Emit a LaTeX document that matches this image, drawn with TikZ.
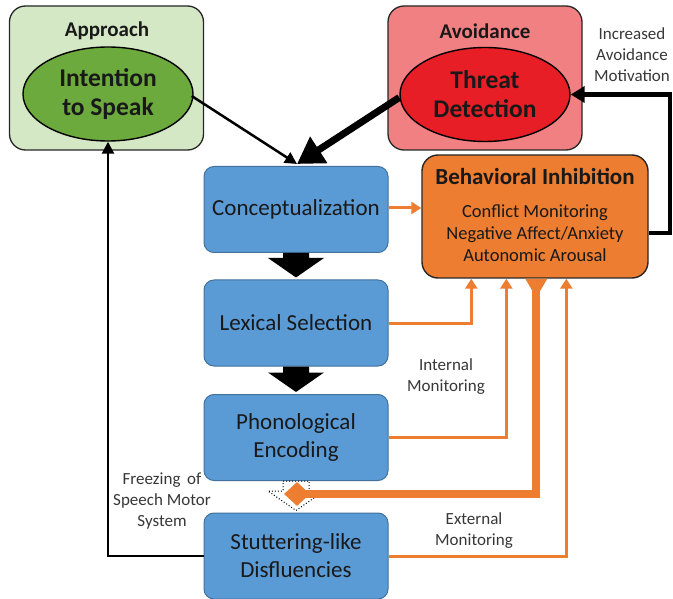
\documentclass[tikz,border=0pt]{standalone}
\usepackage{fontspec}
\setmainfont{Carlito}
\usetikzlibrary{arrows.meta,shapes.geometric,calc}
\definecolor{appfill}{RGB}{213,232,198}
\definecolor{appell}{RGB}{108,170,62}
\definecolor{avfill}{RGB}{241,128,130}
\definecolor{avell}{RGB}{232,30,38}
\definecolor{bluebox}{RGB}{91,155,213}
\definecolor{blueline}{RGB}{65,113,156}
\definecolor{orng}{RGB}{237,125,49}
\definecolor{txt}{RGB}{25,25,25}
\definecolor{lbl}{RGB}{55,55,55}
\newcommand{\blkarrow}[4]{%
  \path[#3] ($(#1.south)+(-13,0)$) -- ($(#1.south)+(13,0)$) -- ($(#1.south)+(13,#4)$) -- ($(#1.south)+(28,#4)$) -- ($(#2.north)+(0,-2)$) -- ($(#1.south)+(-28,#4)$) -- ($(#1.south)+(-13,#4)$) -- cycle;}
\begin{document}
\begin{tikzpicture}[x=1pt,y=-1pt,
  outerbox/.style={draw=black!85, line width=1.3pt, rounded corners=16pt, minimum width=194pt, minimum height=144pt, inner sep=0pt},
  ell/.style={ellipse, draw=black, line width=1.4pt, minimum width=170pt, minimum height=94pt, inner sep=0pt, align=center, font=\fontsize{25.5}{29}\selectfont\bfseries, text=txt},
  title/.style={font=\fontsize{21}{24}\selectfont\bfseries, text=txt},
  bluenode/.style={draw=blueline, fill=bluebox, line width=1pt, rounded corners=10pt, minimum width=184pt, minimum height=86pt, inner sep=0pt, align=center, font=\fontsize{23}{28}\selectfont, text=txt},
  lab/.style={align=center, font=\fontsize{17}{21}\selectfont, text=lbl},
  oarrow/.style={draw=orng, line width=3pt, -{Triangle[length=10pt,width=12pt]}},
  barrow/.style={draw=black, line width=2.5pt, -{Triangle[length=12pt,width=12pt]}}
]
\useasboundingbox (0,0) rectangle (673,599);

% approach / avoidance
\node[outerbox, fill=appfill] (appbox) at (106.5,78) {};
\node[title] (apptitle) at (107,31) {Approach};
\node[ell, fill=appell] (intent) at (108,94) {Intention\\to Speak};

\node[outerbox, fill=avfill] (avbox) at (485,78) {};
\node[title] (avtitle) at (485,31) {Avoidance};
\node[ell, fill=avell] (threat) at (485,94.5) {Threat\\Detection};

% behavioral inhibition
\node[draw=black!85, fill=orng, line width=1.4pt, rounded corners=16pt, minimum width=226pt, minimum height=123pt, inner sep=0pt] (bi) at (535,216.5) {};
\node[title, font=\fontsize{23}{26}\selectfont\bfseries] (bititle) at (535,176) {Behavioral Inhibition};
\node[lab, font=\fontsize{18.5}{22}\selectfont, text=txt] (bitext) at (535,233) {Conflict Monitoring\\Negative Affect/Anxiety\\Autonomic Arousal};

% blue boxes
\node[bluenode] (conc) at (296,209.5) {Conceptualization};
\node[bluenode] (lex) at (296,323) {Lexical Selection};
\node[bluenode] (phon) at (296,437.5) {Phonological\\Encoding};
\node[bluenode] (stutt) at (296,556) {Stuttering-like\\Disfluencies};

% block arrows
\blkarrow{conc}{lex}{fill=black}{5}
\blkarrow{lex}{phon}{fill=black}{6}
\blkarrow{phon}{stutt}{draw=black, dotted, line width=1pt}{10}

% labels
\node[lab] (incr) at (632,55) {Increased\\Avoidance\\Motivation};
\node[lab] (intmon) at (446,377) {Internal\\Monitoring};
\node[lab] (extmon) at (474,531) {External\\Monitoring};
\node[lab] (freeze) at (162,501) {Freezing\, of\\Speech Motor\\System};

% black connectors
\coordinate (ctip) at ($(conc.north)+(1,-2)$);
\draw[barrow] ($(intent.east)+(-2,2)$) -- (ctip);
\draw[draw=black, line width=7pt, -{Triangle[length=26pt,width=30pt]}] ($(threat.west)+(0,3)$) -- (ctip);
\coordinate (fbr) at (670,233);
\draw[draw=black, line width=4.5pt, -{Triangle[length=14pt,width=16pt]}] ($(bi.east)+(0,16.5)$) -- (fbr) |- (threat.east);
\draw[barrow] (stutt.west) -| (intent.south);

% orange connectors
\coordinate (b1) at ($(bi.south west)+(50,0)$);
\coordinate (b2) at ($(bi.south west)+(85,0)$);
\coordinate (b3) at ($(bi.south west)+(115,0)$);
\coordinate (b4) at ($(bi.south west)+(145,0)$);
\draw[oarrow] (conc.east |- 0,208) -- (bi.west |- 0,208);
\draw[oarrow] (lex.east) -| (b1);
\draw[oarrow] (phon.east) -| (b2);
\draw[oarrow] (stutt.east) -| (b4);
\node[diamond, fill=orng, minimum width=26pt, minimum height=24pt, inner sep=0pt] (dia) at (297,494) {};
\fill[orng] ($(b3)+(-11,0)$) -- ($(b3)+(11,0)$) -- ($(b3)+(4,12)$) -- ($(b3)+(-4,12)$) -- cycle;
\draw[orng, line width=8pt] (b3) |- (dia.center);
\end{tikzpicture}
\end{document}
